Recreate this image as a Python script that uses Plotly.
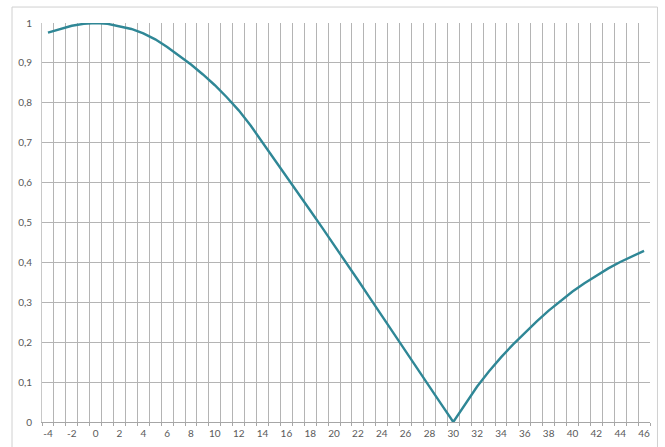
import plotly.graph_objects as go

# category values (-4 .. 46)
x_vals = list(range(-4, 47))
y_vals = [
    0.976, 0.985, 0.993, 0.998, 1.000, 0.998, 0.992, 0.985, 0.974, 0.959,   # -4..5
    0.940, 0.919, 0.896, 0.871, 0.844, 0.814, 0.781, 0.743, 0.701, 0.658,   # 6..15
    0.616, 0.573, 0.530, 0.487, 0.444, 0.400, 0.356, 0.311, 0.266, 0.221,   # 16..25
    0.177, 0.133, 0.089, 0.044, 0.000, 0.046, 0.089, 0.127, 0.162, 0.194,   # 26..35
    0.224, 0.252, 0.279, 0.304, 0.327, 0.348, 0.367, 0.385, 0.401, 0.416,   # 36..45
    0.429,                                                                  # 46
]
x_tick_vals = list(range(-4, 47, 2))
x_tick_text = [str(v) for v in x_tick_vals]

fig = go.Figure()
fig.add_trace(go.Scatter(
    x=x_vals, y=y_vals, mode="lines",
    line=dict(color="#2f8796", width=2.4),
    showlegend=False, hoverinfo="skip",
))

grid_col = "#b4b4b4"
font = dict(family="Lato, 'Open Sans', sans-serif", size=10, color="#595959")

fig.update_layout(
    width=665, height=447,
    margin=dict(l=42, r=15, t=23, b=25, autoexpand=False),
    paper_bgcolor="white", plot_bgcolor="white",
    separators=", ",
    font=font,
    xaxis=dict(
        range=[-4.5, 46.5], automargin=False,
        tickvals=x_tick_vals, ticktext=x_tick_text,
        showgrid=False, zeroline=False,
        ticks="", ticklabelstandoff=2,
        showline=True, linecolor="#a6a6a6", linewidth=1,
        minor=dict(tick0=-4.5, dtick=1, showgrid=True, gridcolor=grid_col,
                   gridwidth=1, ticks="outside", ticklen=3, tickcolor="#a6a6a6"),
        tickfont=font,
    ),
    yaxis=dict(
        range=[0, 1], dtick=0.1, tick0=0, automargin=False,
        showgrid=True, gridcolor=grid_col, gridwidth=1,
        zeroline=False, ticks="", ticklabelstandoff=7,
        showline=True, linecolor="#c8c8c8", linewidth=1,
        tickfont=font,
    ),
    shapes=[dict(
        type="rect", xref="paper", yref="paper",
        x0=-0.0493, x1=1.0123, y0=-0.07, y1=1.040,
        line=dict(color="#d0d0d0", width=1), fillcolor="rgba(0,0,0,0)",
        layer="above",
    )],
)

fig.write_html(
    "out.html",
    config={"displayModeBar": False},
    post_script="document.body.style.margin='0';document.body.style.padding='0';document.body.style.overflow='hidden';",
)
